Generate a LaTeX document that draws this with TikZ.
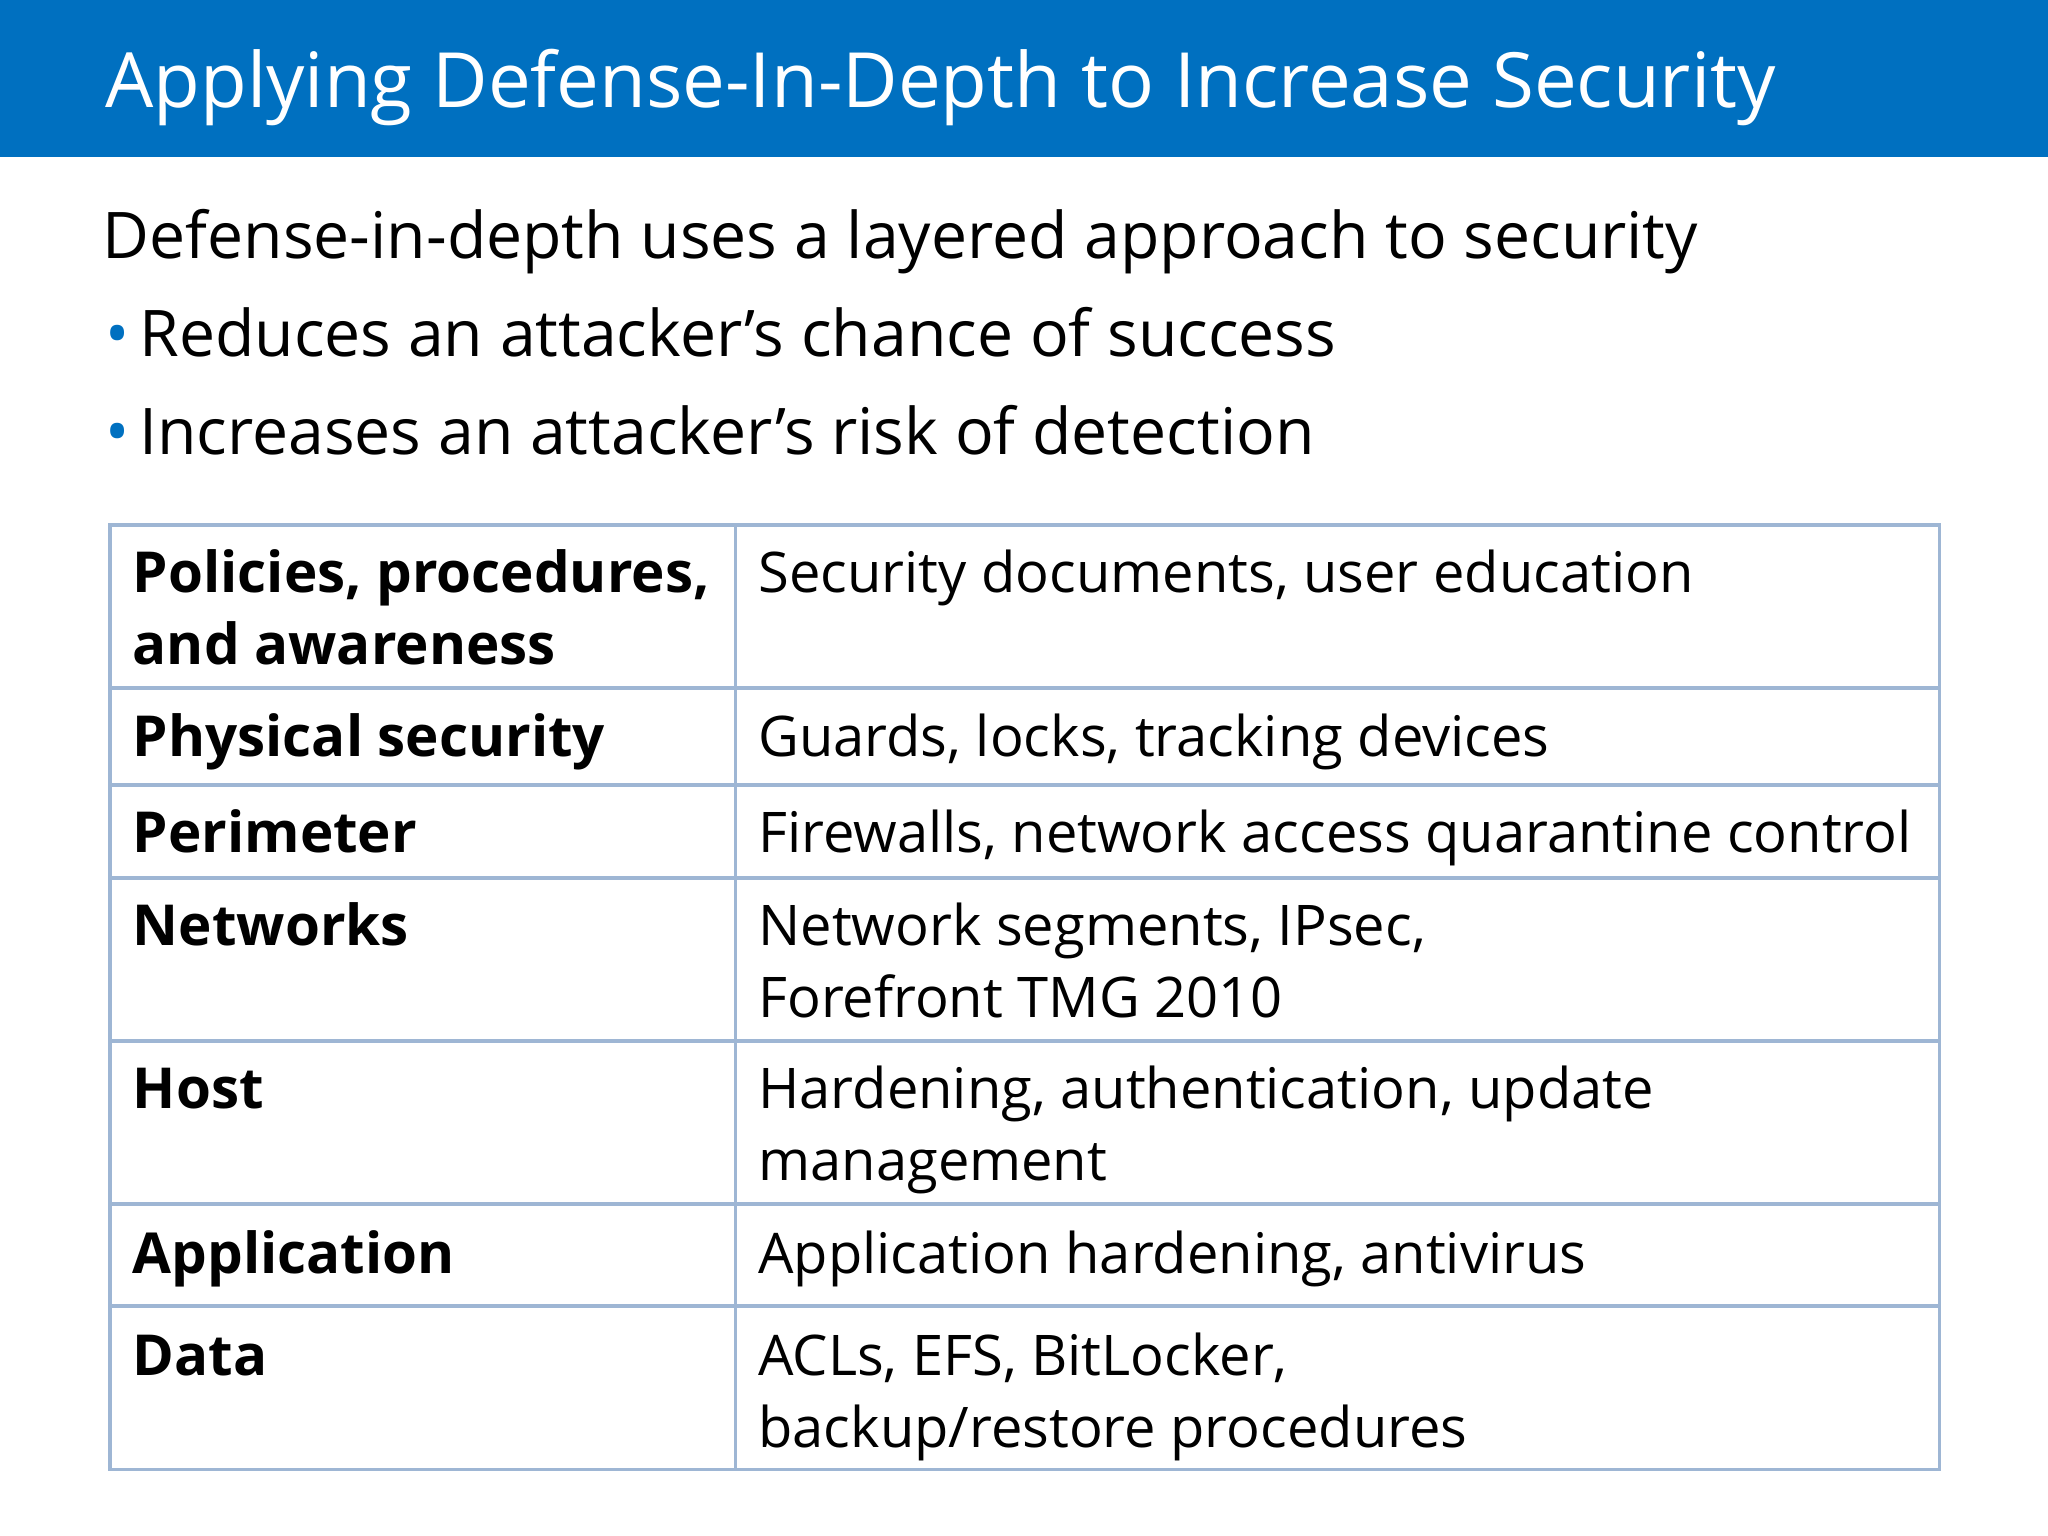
\documentclass[tikz,border=0pt]{standalone}
\usepackage{fontspec}
\setmainfont{Open Sans}
\definecolor{hdr}{RGB}{0,112,192}
\definecolor{grid}{RGB}{158,182,212}
\definecolor{bul}{RGB}{0,112,192}
\begin{document}
\begin{tikzpicture}[x=0.01cm,y=-0.01cm,
  ttl/.style={anchor=base west,inner sep=0,text=white,font=\fontsize{16.6}{20}\selectfont},
  sub/.style={anchor=base west,inner sep=0,font=\fontsize{14}{17}\selectfont},
  lft/.style={anchor=base west,inner sep=0,font=\fontsize{12.3}{15.65}\selectfont\bfseries,align=left},
  rgt/.style={anchor=base west,inner sep=0,font=\fontsize{12.2}{15.65}\selectfont,align=left},
  gl/.style={draw=grid,line width=0.8pt}]
\useasboundingbox (0,0) rectangle (1568,1176);
\fill[hdr] (0,0) rectangle (1568,120);
\node[ttl] (title) at (80,82) {Applying Defense-In-Depth to Increase Security};
\node[sub] (s1) at (78,198) {Defense-in-depth uses a layered approach to security};
\node[sub,text=bul] (b1) at (80,273) {•};
\node[sub] (s2) at (106,273) {Reduces an attacker’s chance of success};
\node[sub,text=bul] (b2) at (80,348) {•};
\node[sub] (s3) at (106,348) {Increases an attacker’s risk of detection};
\draw[gl] (84,402) rectangle (1485,1125);
\foreach \y in {527,601,672,797,922,1000} \draw[gl] (84,\y) -- (1485,\y);
\draw[gl] (563,402) -- (563,1125);
\node[lft] (l1) at (101,509) {Policies, procedures,\\and awareness};
\node[rgt] (r1) at (580,454) {Security documents, user education};
\node[lft] (l2) at (101,579) {Physical security};
\node[rgt] (r2) at (580,579) {Guards, locks, tracking devices};
\node[lft] (l3) at (101,653) {Perimeter};
\node[rgt] (r3) at (580,653) {Firewalls, network access quarantine control};
\node[lft] (l4) at (101,724) {Networks};
\node[rgt] (r4) at (580,779) {Network segments, IPsec,\\Forefront TMG 2010};
\node[lft] (l5) at (101,849) {Host};
\node[rgt] (r5) at (580,904) {Hardening, authentication, update\\management};
\node[lft] (l6) at (101,975) {Application};
\node[rgt] (r6) at (580,975) {Application hardening, antivirus};
\node[lft] (l7) at (101,1053) {Data};
\node[rgt] (r7) at (580,1108) {ACLs, EFS, BitLocker,\\backup/restore procedures};
\end{tikzpicture}
\end{document}
